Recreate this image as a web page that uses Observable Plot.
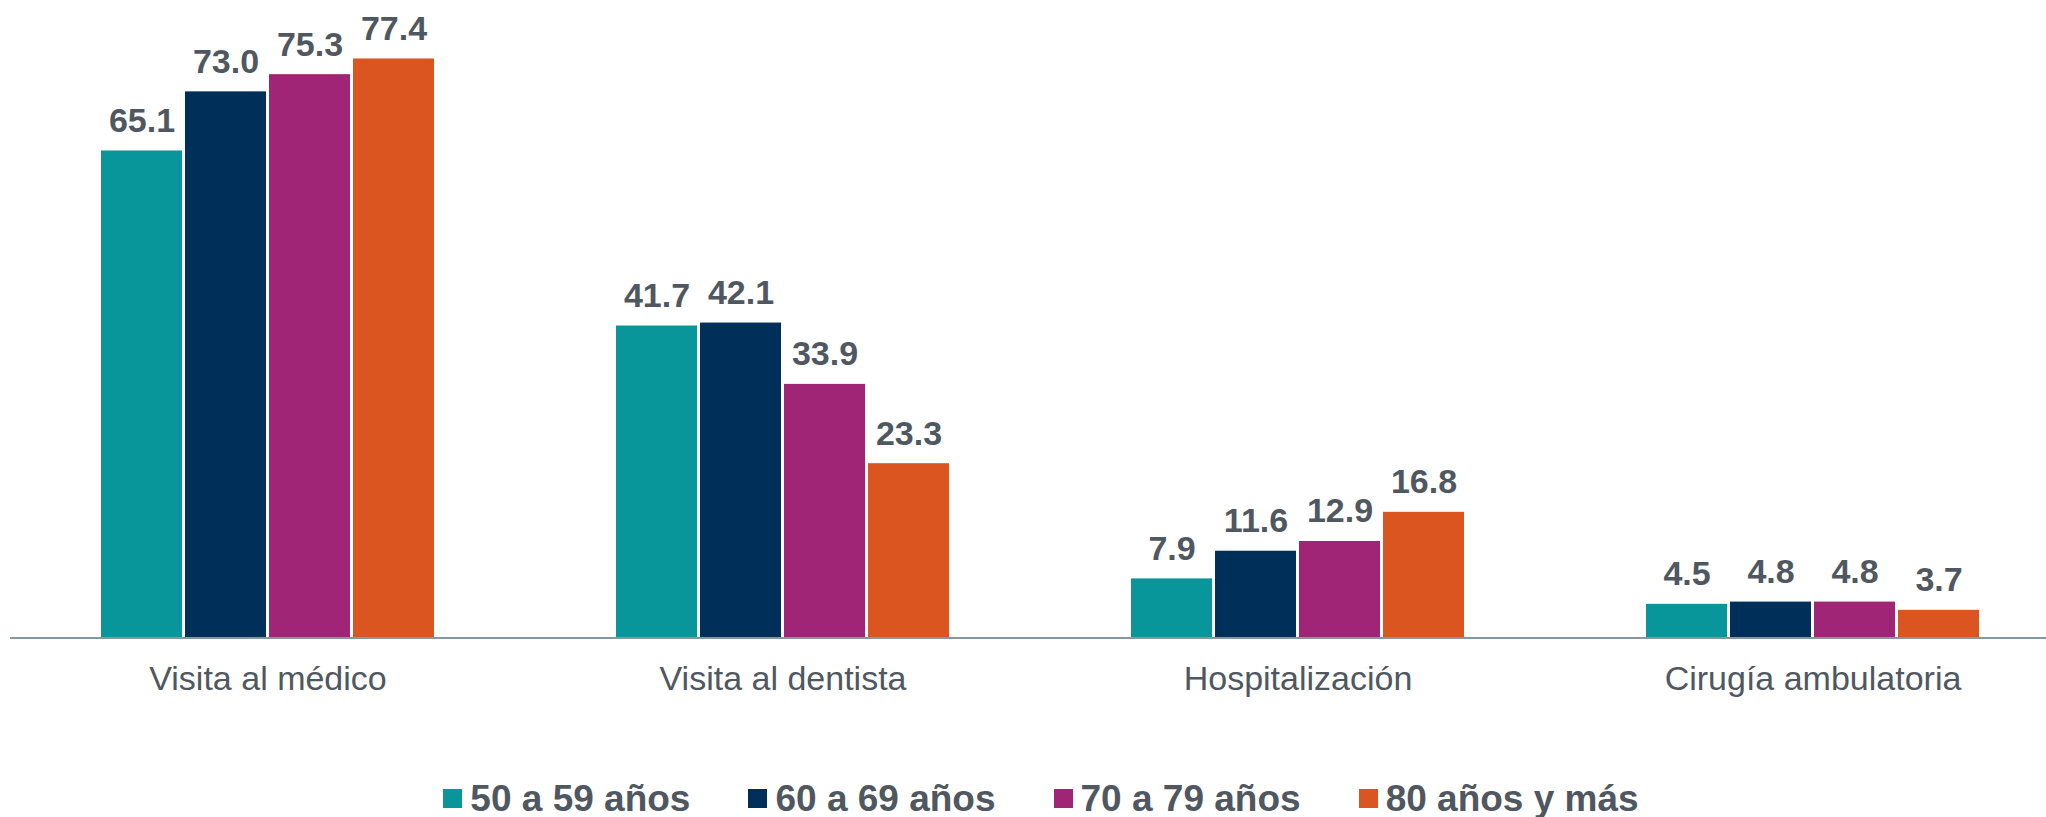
<!DOCTYPE html>
<html>
<head>
<meta charset="utf-8">
<script src="https://cdn.jsdelivr.net/npm/d3@7"></script>
<script src="https://cdn.jsdelivr.net/npm/@observablehq/plot@0.6"></script>
<style>
  html, body { margin: 0; padding: 0; background: #fff; overflow: hidden; }
  body { font-family: "Liberation Sans", Arial, sans-serif; width: 2046px; }
  #chart svg { overflow: hidden; }
  #legend {
    display: flex; justify-content: center; align-items: center;
    margin-top: 40px; padding-left: 36px;
    font-size: 37px; font-weight: bold; color: #4f5761; line-height: 37px;
  }
  .item { display: flex; align-items: center; margin: 0 29px; }
  .sw { width: 19px; height: 19px; margin-right: 8px; }
</style>
</head>
<body>
<div id="chart"></div>
<div id="legend"></div>
<script>
const categories = ["Visita al médico", "Visita al dentista", "Hospitalización", "Cirugía ambulatoria"];
const ageGroups = ["50 a 59 años", "60 a 69 años", "70 a 79 años", "80 años y más"];
const values50 = [65.1, 41.7, 7.9, 4.5];
const values60 = [73.0, 42.1, 11.6, 4.8];
const values70 = [75.3, 33.9, 12.9, 4.8];
const values80 = [77.4, 23.3, 16.8, 3.7];
const colors = ["#08969a", "#00305a", "#a02576", "#db5520"];

const series = [values50, values60, values70, values80];
const data = [];
categories.forEach((c, i) => {
  ageGroups.forEach((a, j) => {
    data.push({category: c, age: a, value: series[j][i]});
  });
});

const textColor = "#4f5761";

const chart = Plot.plot({
  width: 2046,
  height: 740,
  marginTop: 39,
  marginBottom: 102.5,
  marginLeft: 0,
  marginRight: 0,
  style: {fontFamily: "'Liberation Sans', Arial, sans-serif", fontSize: "34px", background: "#fff"},
  fx: {domain: categories, range: [10, 2070], padding: 0, label: null},
  x: {domain: ageGroups, paddingInner: 0.033, paddingOuter: 1.071, axis: null},
  y: {domain: [0, 80], axis: null},
  color: {domain: ageGroups, range: colors},
  marks: [
    Plot.barY(data, {fx: "category", x: "age", y: "value", fill: "age"}),
    Plot.ruleY([0], {stroke: "#8796a3", strokeWidth: 2}),
    Plot.text(data, {
      fx: "category", x: "age", y: "value",
      text: d => d.value.toFixed(1),
      lineAnchor: "bottom", dy: -19,
      fontSize: 34, fontWeight: "bold", fill: textColor
    }),
    Plot.axisFx({anchor: "bottom", tickSize: 0, tickPadding: 28, fill: textColor, label: null})
  ]
});
document.getElementById("chart").append(chart);

const legend = document.getElementById("legend");
ageGroups.forEach((a, j) => {
  const item = document.createElement("div");
  item.className = "item";
  const sw = document.createElement("div");
  sw.className = "sw";
  sw.style.background = colors[j];
  const t = document.createElement("span");
  t.textContent = a;
  item.append(sw, t);
  legend.append(item);
});
</script>
</body>
</html>
